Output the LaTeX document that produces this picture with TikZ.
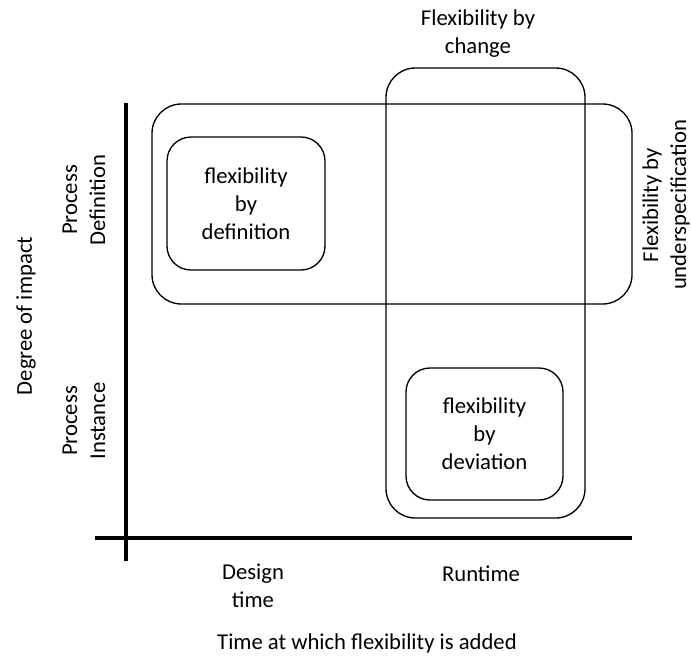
\documentclass[tikz,border=0pt]{standalone}
\usepackage{fontspec}
\setmainfont{Carlito}
\begin{document}
\begin{tikzpicture}[x=0.75pt,y=-0.75pt,
  box/.style={draw, line width=1pt, rounded corners=22pt, inner sep=0pt},
  inbox/.style={draw, line width=1pt, rounded corners=18pt, inner sep=0pt, align=center, font=\fontsize{17}{21}\selectfont},
  lbl/.style={align=center, font=\fontsize{17}{21}\selectfont, inner sep=0pt},
  axis/.style={line width=2.6pt}]
\useasboundingbox (0,0) rectangle (691,657);
% outer boxes
\node[box, minimum width=480*0.75pt, minimum height=200*0.75pt] (under) at (392,204) {};
\node[box, minimum width=199*0.75pt, minimum height=450*0.75pt] (change) at (485.5,293) {};
% inner boxes
\node[inbox, minimum width=158*0.75pt, minimum height=133*0.75pt] (def) at (246,203.5) {flexibility\\by\\definition};
\node[inbox, minimum width=157*0.75pt, minimum height=132*0.75pt] (dev) at (484.5,434) {flexibility\\by\\deviation};
% axes
\coordinate (vtop) at (126,103);
\coordinate (vbot) at (126,561);
\coordinate (hl) at (95,538);
\coordinate (hr) at (632,538);
\draw[axis] (vtop) -- (vbot);
\draw[axis] (hl) -- (hr);
% labels
\node[lbl] (lchange) at (478,34) {Flexibility by\\change};
\node[lbl, rotate=90] (lunder) at (666,205) {Flexibility by\\underspecification};
\node[lbl, rotate=90] (lpd) at (84,200) {Process\\Definition};
\node[lbl, rotate=90] (lpi) at (84,421) {Process\\Instance};
\node[lbl, rotate=90] (ldeg) at (26,316) {Degree of impact};
\node[lbl] (ldesign) at (253,586) {Design\\time};
\node[lbl] (lrun) at (481,574) {Runtime};
\node[lbl] (ltime) at (367,643) {Time at which flexibility is added};
\end{tikzpicture}
\end{document}
